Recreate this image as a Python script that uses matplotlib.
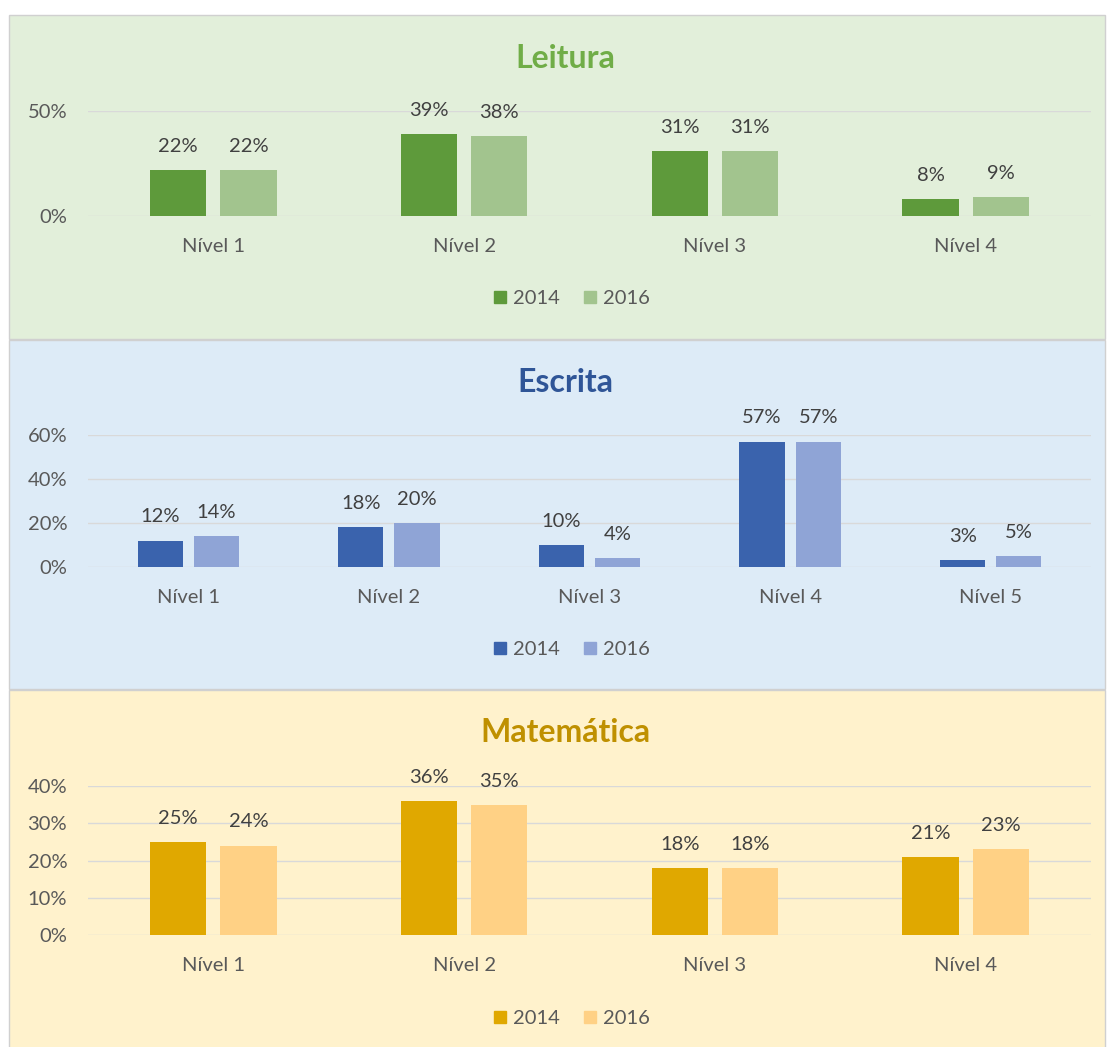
import matplotlib
matplotlib.use("Agg")
import matplotlib.pyplot as plt
from matplotlib.patches import Rectangle
from matplotlib.lines import Line2D
from matplotlib.ticker import FuncFormatter, MultipleLocator

plt.rcParams['font.family'] = ['Lato', 'DejaVu Sans']

# ---- data ----
years = ["2014", "2016"]
leitura_cats = ["Nível 1", "Nível 2", "Nível 3", "Nível 4"]
leitura_2014 = [22, 39, 31, 8]
leitura_2016 = [22, 38, 31, 9]

escrita_cats = ["Nível 1", "Nível 2", "Nível 3", "Nível 4", "Nível 5"]
escrita_2014 = [12, 18, 10, 57, 3]
escrita_2016 = [14, 20, 4, 57, 5]

mat_cats = ["Nível 1", "Nível 2", "Nível 3", "Nível 4"]
mat_2014 = [25, 36, 18, 21]
mat_2016 = [24, 35, 18, 23]

W, H = 1108, 1047
fig = plt.figure(figsize=(W / 100, H / 100), dpi=100)
fig.patch.set_facecolor("white")

TXT = "#595959"
LBL = "#404040"
GRID = "#D9D9D9"
FS = 14.5


def fx(px):
    return px / W


def fy(py):
    return 1 - py / H


panels = [
    dict(title="Leitura", tcolor="#70AD47", bg="#E2EFDA", top=15, bot=339,
         cats=leitura_cats, s1=leitura_2014, s2=leitura_2016,
         c1="#5E9A3B", c2="#A2C48E", ymax=50, step=50, y0=216, ytop=111,
         ty=58, ly=298),
    dict(title="Escrita", tcolor="#2F5597", bg="#DDEBF7", top=340, bot=689,
         cats=escrita_cats, s1=escrita_2014, s2=escrita_2016,
         c1="#3A63AD", c2="#8FA4D6", ymax=60, step=20, y0=567, ytop=435,
         ty=382, ly=649),
    dict(title="Matemática", tcolor="#BF9000", bg="#FFF2CC", top=690, bot=1050,
         cats=mat_cats, s1=mat_2014, s2=mat_2016,
         c1="#E0A800", c2="#FFD185", ymax=40, step=10, y0=935, ytop=786,
         ty=732, ly=1018),
]

L, R = 88, 1091
for p in panels:
    fig.patches.append(Rectangle((fx(9), fy(p["bot"])), fx(1105 - 9),
                                 (p["bot"] - p["top"]) / H,
                                 transform=fig.transFigure, facecolor=p["bg"],
                                 edgecolor="#D0D0D0", linewidth=1.0, zorder=-10))
    ax = fig.add_axes([fx(L), fy(p["y0"]), fx(R - L), (p["y0"] - p["ytop"]) / H])
    ax.set_zorder(5)
    ax.set_facecolor("none")
    n = len(p["cats"])
    xs = list(range(n))
    bw = 0.225
    off = 0.14
    b1 = ax.bar([x - off for x in xs], p["s1"], width=bw, color=p["c1"], zorder=3)
    b2 = ax.bar([x + off for x in xs], p["s2"], width=bw, color=p["c2"], zorder=3)
    for bars, vals in ((b1, p["s1"]), (b2, p["s2"])):
        for b, v in zip(bars, vals):
            ax.annotate(f"{v}%", (b.get_x() + b.get_width() / 2, v),
                        xytext=(0, 17), textcoords="offset points",
                        ha="center", va="center", fontsize=FS, color=LBL)
    ax.set_xlim(-0.5, n - 0.5)
    ax.set_ylim(0, p["ymax"])
    ax.yaxis.set_major_locator(MultipleLocator(p["step"]))
    ax.yaxis.set_major_formatter(FuncFormatter(lambda v, _: f"{v:.0f}%"))
    ax.grid(axis="y", color=GRID, linewidth=1.0, zorder=0)
    ax.set_axisbelow(True)
    for s in ax.spines.values():
        s.set_visible(False)
    ax.set_xticks(xs)
    ax.set_xticklabels(p["cats"])
    ax.tick_params(axis="both", length=0, labelsize=FS, colors=TXT)
    ax.tick_params(axis="y", pad=15)
    ax.tick_params(axis="x", pad=16)
    fig.text(fx(565), fy(p["ty"]), p["title"], ha="center", va="center",
             fontsize=23, fontweight="bold", color=p["tcolor"])
    handles = [Line2D([], [], marker="s", linestyle="none", markersize=9,
                      markerfacecolor=c, markeredgecolor=c)
               for c in (p["c1"], p["c2"])]
    fig.legend(handles, years, loc="center", bbox_to_anchor=(fx(570), fy(p["ly"])),
               ncol=2, frameon=False, fontsize=FS, labelcolor=TXT,
               handletextpad=0.15, columnspacing=1.0, handlelength=1.0)

fig.savefig("out.png", dpi=100, facecolor="white")
